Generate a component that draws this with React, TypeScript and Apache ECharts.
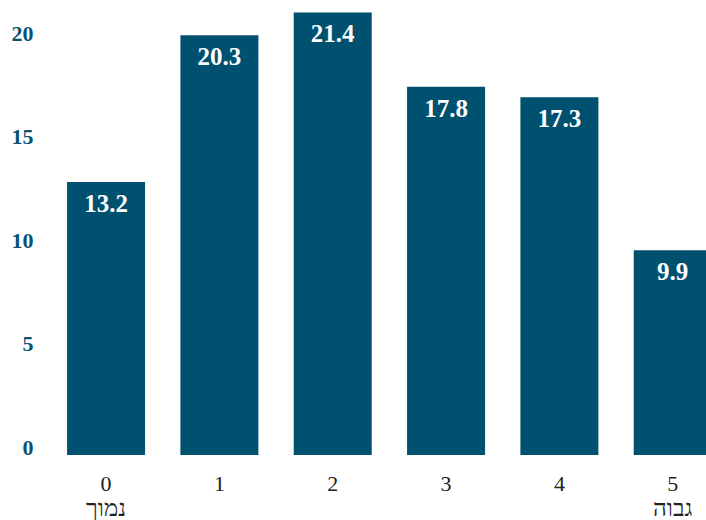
import React, { useEffect, useRef } from "react";
import * as echarts from "echarts";

const categories = ["0\nנמוך", "1", "2", "3", "4", "5\nגבוה"];
const values = [13.2, 20.3, 21.4, 17.8, 17.3, 9.9];
const yTicks = [0, 5, 10, 15, 20];

const FONT = "'Liberation Serif', 'Times New Roman', serif";

export default function App() {
  const ref = useRef<HTMLDivElement>(null);
  useEffect(() => {
    if (!ref.current) return;
    const chart = echarts.init(ref.current, null, { renderer: "svg" });
    chart.setOption({
      animation: false,
      grid: { left: 49.4, width: 680, top: 0, bottom: 65, outerBoundsMode: "none", containLabel: false },
      xAxis: {
        type: "category",
        data: categories,
        axisLine: { show: false },
        axisTick: { show: false },
        axisLabel: {
          margin: 17,
          fontFamily: FONT,
          fontSize: 22,
          color: "#222222",
          formatter: (v: string) => {
            const parts = v.split("\n");
            return parts.length > 1 ? `{n|${parts[0]}}\n{h|${parts[1]}}` : `{n|${v}}`;
          },
          rich: {
            n: { fontFamily: FONT, fontSize: 22, lineHeight: 22, color: "#222222" },
            h: { fontFamily: FONT, fontSize: 24, lineHeight: 27, color: "#222222" },
          },
        },
      },
      yAxis: {
        type: "value",
        min: 0,
        max: 22,
        interval: 5,
        splitLine: { show: false },
        axisLine: { show: false },
        axisTick: { show: false },
        axisLabel: {
          showMaxLabel: false,
          margin: 16,
          fontFamily: FONT,
          fontWeight: "bold",
          fontSize: 22,
          lineHeight: 16,
          color: "#0a5274",
          verticalAlign: "bottom",
          formatter: (v: number) => (yTicks.includes(v) ? String(v) : ""),
        },
      },
      series: [
        {
          type: "bar",
          data: values,
          barWidth: 78,
          itemStyle: { color: "#00506f" },
          label: {
            show: true,
            position: "insideTop",
            distance: 9,
            fontFamily: FONT,
            fontWeight: "bold",
            fontSize: 25,
            color: "#ffffff",
            formatter: (p: any) => p.value.toFixed(1),
          },
        },
      ],
    });
    return () => chart.dispose();
  }, []);
  return (
    <div
      ref={ref}
      style={{ position: "absolute", left: 0, top: 0, width: 706, height: 520, overflow: "hidden" }}
    />
  );
}
